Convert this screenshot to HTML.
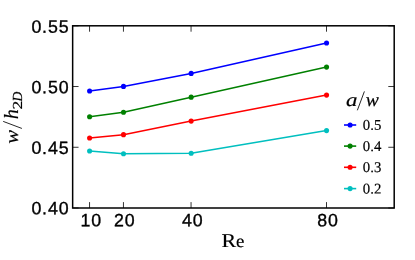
<!DOCTYPE html>
<html><head><meta charset="utf-8"><title>chart</title>
<style>html,body{margin:0;padding:0;background:#fff;}svg{display:block;will-change:transform;}text{font-family:"Liberation Sans",sans-serif;fill:#000;text-rendering:geometricPrecision;}.t{stroke:#000;stroke-width:0.35px;}.b{stroke:#000;stroke-width:0.18px;}.s{font-family:"Liberation Serif",serif;}.i{font-family:"Liberation Serif",serif;font-style:italic;}</style></head><body>
<svg width="415" height="260" viewBox="0 0 415 260">
<rect width="415" height="260" fill="#ffffff"/>
<polyline points="89.60,91.00 123.50,86.40 191.15,73.40 326.55,43.00" fill="none" stroke="#0000ff" stroke-width="1.5" stroke-linejoin="round"/>
<circle cx="89.60" cy="91.00" r="2.55" fill="#0000ff"/>
<circle cx="123.50" cy="86.40" r="2.55" fill="#0000ff"/>
<circle cx="191.15" cy="73.40" r="2.55" fill="#0000ff"/>
<circle cx="326.55" cy="43.00" r="2.55" fill="#0000ff"/>
<polyline points="89.60,116.70 123.50,112.20 191.15,97.15 326.55,67.10" fill="none" stroke="#008000" stroke-width="1.5" stroke-linejoin="round"/>
<circle cx="89.60" cy="116.70" r="2.55" fill="#008000"/>
<circle cx="123.50" cy="112.20" r="2.55" fill="#008000"/>
<circle cx="191.15" cy="97.15" r="2.55" fill="#008000"/>
<circle cx="326.55" cy="67.10" r="2.55" fill="#008000"/>
<polyline points="89.60,138.05 123.50,134.65 191.15,121.10 326.55,95.10" fill="none" stroke="#ff0000" stroke-width="1.5" stroke-linejoin="round"/>
<circle cx="89.60" cy="138.05" r="2.55" fill="#ff0000"/>
<circle cx="123.50" cy="134.65" r="2.55" fill="#ff0000"/>
<circle cx="191.15" cy="121.10" r="2.55" fill="#ff0000"/>
<circle cx="326.55" cy="95.10" r="2.55" fill="#ff0000"/>
<polyline points="89.60,151.00 123.50,153.80 191.15,153.30 326.55,130.60" fill="none" stroke="#00bfbf" stroke-width="1.5" stroke-linejoin="round"/>
<circle cx="89.60" cy="151.00" r="2.55" fill="#00bfbf"/>
<circle cx="123.50" cy="153.80" r="2.55" fill="#00bfbf"/>
<circle cx="191.15" cy="153.30" r="2.55" fill="#00bfbf"/>
<circle cx="326.55" cy="130.60" r="2.55" fill="#00bfbf"/>
<path d="M89.55 208.0v-5.9M89.55 25.8v5.9M123.45 208.0v-5.9M123.45 25.8v5.9M191.05 208.0v-5.9M191.05 25.8v5.9M326.50 208.0v-5.9M326.50 25.8v5.9M72.65 208.00h5.9M394.2 208.00h-5.9M72.65 147.27h5.9M394.2 147.27h-5.9M72.65 86.53h5.9M394.2 86.53h-5.9M72.65 25.80h5.9M394.2 25.80h-5.9" stroke="#000" stroke-width="0.8" fill="none"/>
<rect x="72.65" y="25.8" width="321.54999999999995" height="182.2" fill="none" stroke="#000" stroke-width="1.5"/>
<text transform="translate(69.4 214.35) rotate(0.05)" class="t" text-anchor="end" letter-spacing="0.85" font-size="17.8">0.40</text>
<text transform="translate(69.4 153.90) rotate(0.05)" class="t" text-anchor="end" letter-spacing="0.85" font-size="17.8">0.45</text>
<text transform="translate(69.4 93.30) rotate(0.05)" class="t" text-anchor="end" letter-spacing="0.85" font-size="17.8">0.50</text>
<text transform="translate(69.4 32.75) rotate(0.05)" class="t" text-anchor="end" letter-spacing="0.85" font-size="17.8">0.55</text>
<text transform="translate(80.50 226.2) rotate(0.05)" class="t" letter-spacing="0.85" font-size="17.8">10</text>
<text transform="translate(114.10 226.2) rotate(0.05)" class="t" letter-spacing="0.85" font-size="17.8">20</text>
<text transform="translate(181.90 226.2) rotate(0.05)" class="t" letter-spacing="0.85" font-size="17.8">40</text>
<text transform="translate(317.20 226.2) rotate(0.05)" class="t" letter-spacing="0.85" font-size="17.8">80</text>
<text class="s b" transform="translate(221.57 247.10) scale(1.117 1)" font-size="19.61">R</text>
<text class="s b" transform="translate(235.96 247.10) scale(1.053 1)" font-size="17.95">e</text>
<g transform="translate(18.2 143.4) rotate(-90)">
<text class="i b" transform="translate(-0.30 0.00) scale(1.083 1)" font-size="19.17">w</text>
<path d="M14.95 3.7L22.0 -15.0" stroke="#000" stroke-width="0.85" fill="none"/>
<text class="i b" transform="translate(24.27 0.00) scale(0.997 1)" font-size="20.18">h</text>
<text class="s b" transform="translate(33.83 3.70) scale(1.270 1)" font-size="13.74">2</text>
<text class="i b" transform="translate(41.95 3.70) scale(0.972 1)" font-size="13.90">D</text>
</g>
<text class="i b" transform="translate(346.12 105.70) scale(1.224 1)" font-size="18.70">a</text>
<path d="M357.35 110.3L364.4 91.4" stroke="#000" stroke-width="0.85" fill="none"/>
<text class="i b" transform="translate(365.73 105.70) scale(1.026 1)" font-size="19.17">w</text>
<path d="M344 125.0H356.2" stroke="#0000ff" stroke-width="1.6"/>
<circle cx="350.1" cy="125.0" r="2.55" fill="#0000ff"/>
<text class="s b" font-size="14.8" transform="translate(362.8 129.80) rotate(0.05)">0.5</text>
<path d="M344 146.1H356.2" stroke="#008000" stroke-width="1.6"/>
<circle cx="350.1" cy="146.1" r="2.55" fill="#008000"/>
<text class="s b" font-size="14.8" transform="translate(362.8 150.90) rotate(0.05)">0.4</text>
<path d="M344 167.3H356.2" stroke="#ff0000" stroke-width="1.6"/>
<circle cx="350.1" cy="167.3" r="2.55" fill="#ff0000"/>
<text class="s b" font-size="14.8" transform="translate(362.8 172.10) rotate(0.05)">0.3</text>
<path d="M344 188.6H356.2" stroke="#00bfbf" stroke-width="1.6"/>
<circle cx="350.1" cy="188.6" r="2.55" fill="#00bfbf"/>
<text class="s b" font-size="14.8" transform="translate(362.8 193.40) rotate(0.05)">0.2</text>
</svg></body></html>
